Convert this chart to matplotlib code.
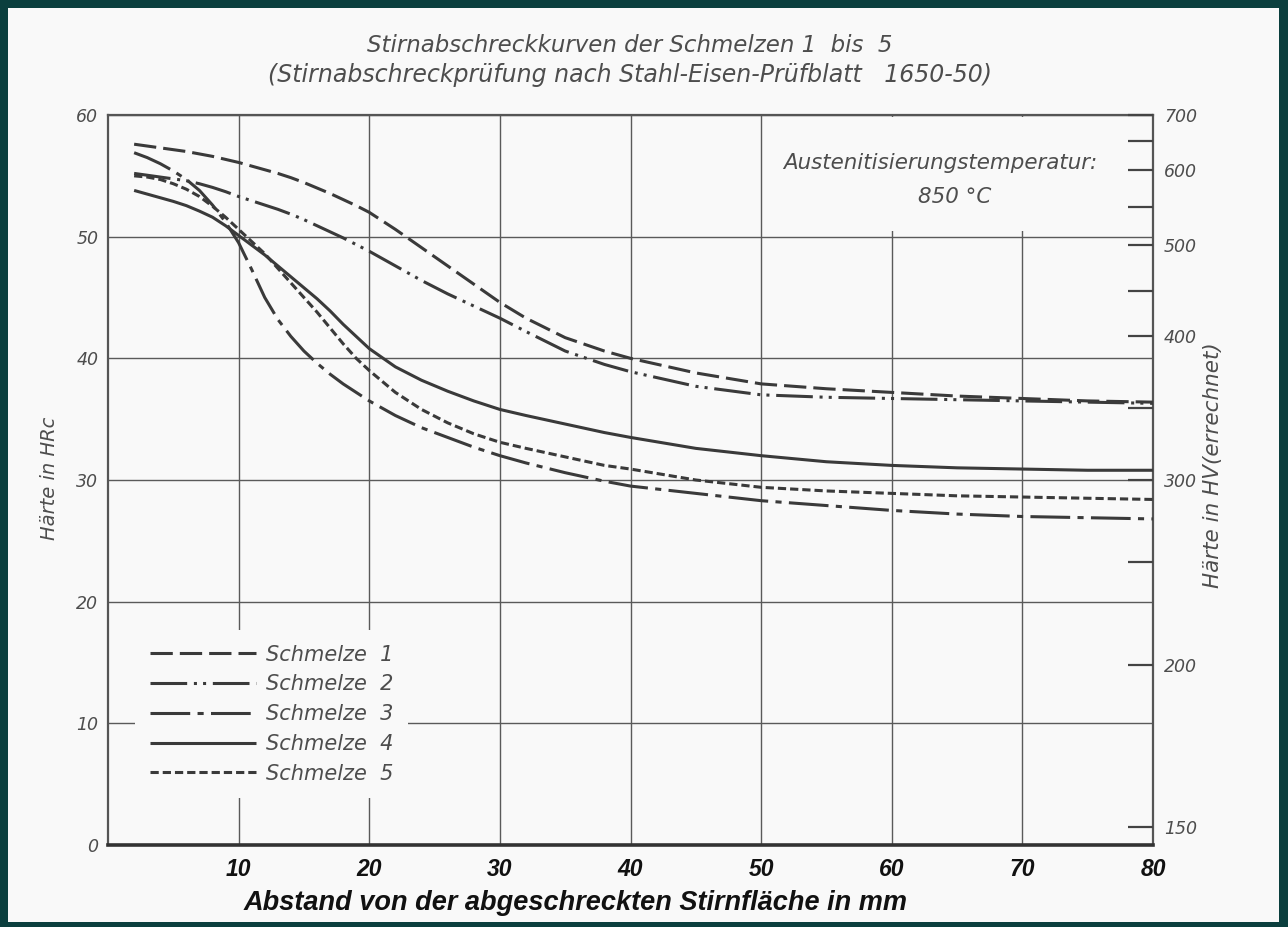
import matplotlib.pyplot as plt
from matplotlib.patches import Rectangle

# Abstand von der abgeschreckten Stirnfläche (mm)
dist = [2, 3, 4, 5, 6, 7, 8, 9, 10, 11, 12, 13, 14, 15, 16, 17, 18, 19, 20,
        22, 24, 26, 28, 30, 32, 35, 38, 40, 45, 50, 55, 60, 65, 70, 75, 80]

# Härte in HRc
schmelze_1 = [57.6, 57.45, 57.3, 57.15, 57.0, 56.8, 56.6, 56.35, 56.1, 55.8, 55.5, 55.2,
              54.85, 54.45, 54.0, 53.55, 53.05, 52.55, 52.0, 50.6, 49.1, 47.6, 46.1, 44.6,
              43.3, 41.7, 40.6, 40.0, 38.8, 37.9, 37.5, 37.2, 36.9, 36.7, 36.5, 36.4]
schmelze_2 = [55.2, 55.05, 54.9, 54.75, 54.6, 54.35, 54.05, 53.7, 53.3, 52.95, 52.6, 52.25,
              51.85, 51.4, 50.9, 50.4, 49.9, 49.35, 48.8, 47.6, 46.4, 45.3, 44.3, 43.3,
              42.2, 40.6, 39.5, 38.9, 37.7, 37.0, 36.8, 36.7, 36.6, 36.5, 36.4, 36.3]
schmelze_3 = [56.9, 56.5, 56.0, 55.4, 54.7, 53.8, 52.6, 51.2, 49.5, 47.3, 45.0, 43.2,
              41.8, 40.6, 39.6, 38.7, 37.9, 37.2, 36.5, 35.3, 34.3, 33.5, 32.7, 32.0,
              31.4, 30.6, 29.9, 29.5, 28.9, 28.3, 27.9, 27.5, 27.2, 27.0, 26.9, 26.8]
schmelze_4 = [53.8, 53.5, 53.2, 52.9, 52.55, 52.1, 51.6, 50.9, 50.1, 49.3, 48.5, 47.6,
              46.7, 45.8, 44.9, 43.9, 42.8, 41.8, 40.8, 39.3, 38.2, 37.3, 36.5, 35.8,
              35.3, 34.6, 33.9, 33.5, 32.6, 32.0, 31.5, 31.2, 31.0, 30.9, 30.8, 30.8]
schmelze_5 = [55.0, 54.9, 54.7, 54.35, 53.9, 53.3, 52.5, 51.6, 50.6, 49.6, 48.6, 47.4,
              46.2, 45.0, 43.8, 42.5, 41.2, 40.0, 39.0, 37.2, 35.8, 34.7, 33.8, 33.1,
              32.6, 31.9, 31.2, 30.9, 30.0, 29.4, 29.1, 28.9, 28.7, 28.6, 28.5, 28.4]

series_names = ['Schmelze  1', 'Schmelze  2', 'Schmelze  3', 'Schmelze  4', 'Schmelze  5']

x_ticks = [10, 20, 30, 40, 50, 60, 70, 80]
hrc_ticks = [0, 10, 20, 30, 40, 50, 60]

# Vickers-Skala rechts (Lage in HRc)
hv_labels = ['700', '', '600', '', '500', '', '400', '', '300', '', '200', '150']
hv_pos = [60.0, 57.9, 55.5, 52.4, 49.3, 45.5, 41.8, 35.9, 30.0, 23.3, 14.8, 1.5]

W, H = 1288, 927
teal = '#0b3f3e'
paper = '#f9f9f9'
ink = '#3a3a3a'
grey_txt = '#4d4d4d'

fig = plt.figure(figsize=(W / 100, H / 100), dpi=100)
fig.patch.set_facecolor(teal)
fig.patches.append(Rectangle((8 / W, 5 / H), 1 - 17 / W, 1 - 13 / H,
                             transform=fig.transFigure, facecolor=paper,
                             edgecolor='none', zorder=-10))

ax = fig.add_axes([108 / W, 1 - 845 / H, 1045 / W, 730 / H])
ax.set_facecolor(paper)
ax.set_xlim(0, 80)
ax.set_ylim(0, 60)

ax.grid(True, color='#5a5a5a', linewidth=1.0, zorder=1)
ax.set_axisbelow(True)

for side in ['left', 'top', 'right']:
    ax.spines[side].set_color('#555555')
    ax.spines[side].set_linewidth(1.6)
ax.spines['bottom'].set_color('#333333')
ax.spines['bottom'].set_linewidth(2.6)

lw = 2.2
styles = [
    (0, (7.3, 2.3)),
    (0, (12, 2.2, 1.0, 2.0, 1.0, 2.2)),
    (0, (13, 2.4, 2.0, 2.4)),
    '-',
    (0, (2.7, 1.3)),
]
for vals, name, ls in zip([schmelze_1, schmelze_2, schmelze_3, schmelze_4, schmelze_5],
                          series_names, styles):
    ax.plot(dist, vals, color=ink, linewidth=lw, linestyle=ls, label=name,
            solid_capstyle='butt', dash_capstyle='butt', solid_joinstyle='round',
            zorder=3)

# x-Achse
ax.set_xticks(x_ticks)
ax.set_xticklabels([str(v) for v in x_ticks], fontsize=16.5, fontweight='bold',
                   fontstyle='italic', family=['Liberation Sans', 'DejaVu Sans'],
                   color='#111111')
ax.tick_params(axis='x', length=0, pad=9)

# linke Achse HRc
ax.set_yticks(hrc_ticks)
ax.set_yticklabels([str(v) for v in hrc_ticks], fontsize=12.5, fontstyle='italic',
                   color=grey_txt)
ax.tick_params(axis='y', length=0, pad=7)

# rechte Achse HV
ax2 = ax.twinx()
ax2.set_ylim(0, 60)
ax2.set_yticks(hv_pos)
ax2.set_yticklabels(hv_labels, fontsize=12.5, fontstyle='italic', color=grey_txt)
ax2.tick_params(axis='y', direction='in', length=18, width=1.6, color='#444444', pad=8)
for s in ax2.spines.values():
    s.set_visible(False)

# Textfeld oben rechts deckt das Gitter ab
ax.add_patch(Rectangle((50.5, 50.5), 27.0, 9.35, facecolor=paper, edgecolor='none',
                       zorder=2))

leg = ax.legend(loc='upper left', bbox_to_anchor=(0.026, 0.2945), borderaxespad=0,
                handlelength=5.1, handletextpad=0.5, labelspacing=0.47,
                borderpad=0.7, frameon=True, fancybox=False, framealpha=1,
                facecolor=paper, edgecolor='none',
                prop={'style': 'italic', 'size': 15})
for t in leg.get_texts():
    t.set_color(grey_txt)

txt = dict(style='italic', color=grey_txt)
fig.text(630 / W, 1 - 45 / H, 'Stirnabschreckkurven der Schmelzen 1  bis  5',
         ha='center', va='center', fontsize=16.5, **txt)
fig.text(630 / W, 1 - 75 / H,
         '(Stirnabschreckprüfung nach Stahl-Eisen-Prüfblatt   1650-50)',
         ha='center', va='center', fontsize=17, **txt)
fig.text(940 / W, 1 - 163 / H, 'Austenitisierungstemperatur:', ha='center',
         va='center', fontsize=15.4, **txt)
fig.text(955 / W, 1 - 197 / H, '850 °C', ha='center', va='center', fontsize=15.4, **txt)
fig.text(50 / W, 1 - 478 / H, 'Härte in HRc', rotation=90, ha='center', va='center',
         fontsize=14, **txt)
fig.text(1213 / W, 1 - 465 / H, 'Härte in HV(errechnet)', rotation=90, ha='center',
         va='center', fontsize=15.5, **txt)
fig.text(576 / W, 1 - 903 / H, 'Abstand von der abgeschreckten Stirnfläche in mm',
         ha='center', va='center', fontsize=19.5, fontweight='bold', style='italic',
         family=['Liberation Sans', 'DejaVu Sans'], color='#111111')

fig.savefig('out.png', dpi=100, facecolor=fig.get_facecolor())
